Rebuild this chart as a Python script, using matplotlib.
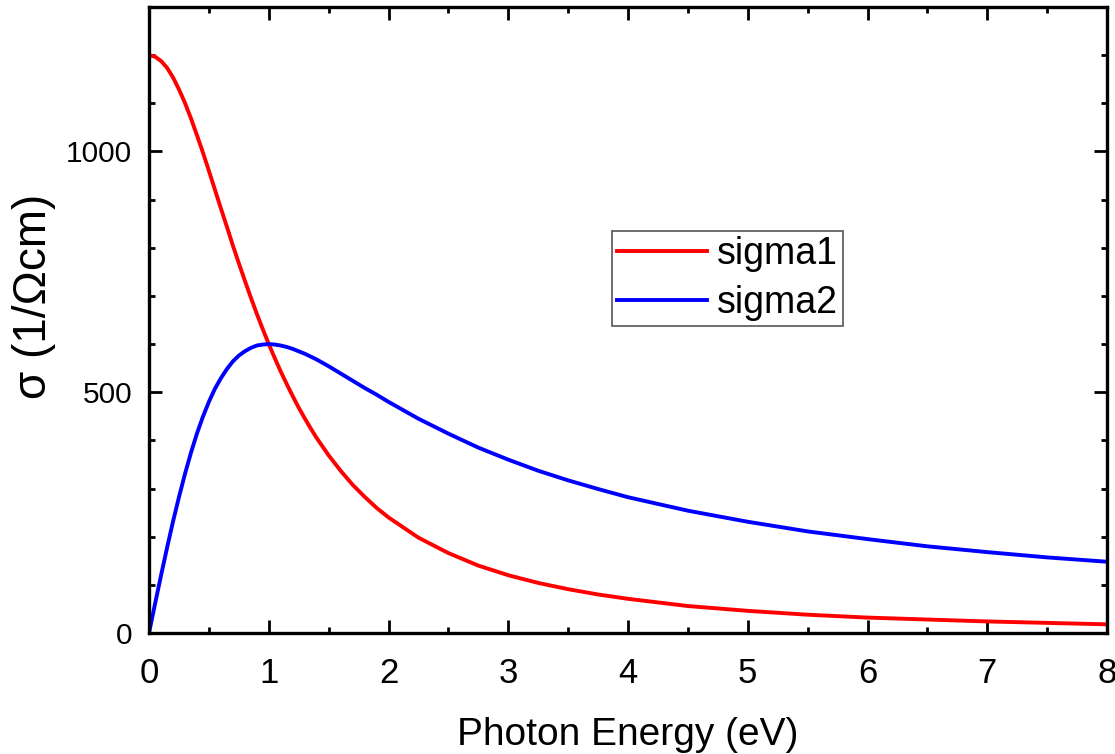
import matplotlib
matplotlib.use("Agg")
import matplotlib.pyplot as plt
from matplotlib.ticker import MultipleLocator

plt.rcParams['font.family'] = ['Liberation Sans', 'DejaVu Sans']

# Photon energy (eV) and the two conductivity components (1/Ohm cm)
energy = [0.0, 0.05, 0.1, 0.15, 0.2, 0.25, 0.3, 0.35, 0.4, 0.45,
          0.5, 0.55, 0.6, 0.65, 0.7, 0.75, 0.8, 0.85, 0.9, 0.95,
          1.0, 1.05, 1.1, 1.15, 1.2, 1.25, 1.3, 1.35, 1.4, 1.45,
          1.5, 1.6, 1.7, 1.8, 1.9, 2.0, 2.25, 2.5, 2.75, 3.0,
          3.25, 3.5, 3.75, 4.0, 4.5, 5.0, 5.5, 6.0, 6.5, 7.0, 7.5, 8.0]
sigma1 = [1200, 1197, 1188, 1174, 1154, 1129, 1101, 1069, 1034, 998,
          960, 921, 882, 844, 805, 768, 732, 697, 663, 631,
          600, 571, 543, 517, 492, 468, 446, 425, 405, 387,
          369, 337, 308, 283, 260, 240, 198, 166, 140, 120,
          104, 91, 80, 71, 56, 46, 38, 32, 28, 24, 21, 18]
sigma2 = [0, 60, 119, 176, 231, 282, 330, 374, 414, 449,
          480, 507, 529, 548, 564, 576, 585, 592, 597, 599,
          600, 599, 597, 594, 590, 585, 580, 574, 568, 561,
          554, 539, 524, 509, 495, 480, 445, 414, 385, 360,
          337, 317, 299, 282, 254, 231, 211, 195, 180, 168, 157, 148]

W, H = 1115, 754
fig = plt.figure(figsize=(W / 100, H / 100), dpi=100)
ax = fig.add_axes([149 / W, 1 - 633 / H, (1107 - 149) / W, (633 - 7) / H])

ax.plot(energy, sigma1, color='#ff0000', lw=2.8, label='sigma1',
        solid_joinstyle='round')
ax.plot(energy, sigma2, color='#0000ff', lw=2.8, label='sigma2',
        solid_joinstyle='round')

ax.set_xlim(0, 8)
ax.set_ylim(0, 1300)
ax.xaxis.set_major_locator(MultipleLocator(1))
ax.xaxis.set_minor_locator(MultipleLocator(0.5))
ax.yaxis.set_major_locator(MultipleLocator(500))
ax.yaxis.set_minor_locator(MultipleLocator(100))

for s in ax.spines.values():
    s.set_linewidth(2.4)

ax.tick_params(which='both', direction='in', top=True, right=True, width=2.0)
ax.tick_params(which='major', length=9.5)
ax.tick_params(which='minor', length=4.5)
ax.tick_params(axis='x', which='major', labelsize=25, pad=17)
ax.tick_params(axis='y', which='major', labelsize=21.5, pad=12)

fig.text(628 / W, 1 - 735 / H, 'Photon Energy (eV)', fontsize=28,
         ha='center', va='center')
fig.text(34 / W, 1 - 296 / H, 'σ (1/Ωcm)', fontsize=33,
         ha='center', va='center', rotation=90)

leg = ax.legend(loc='upper left', bbox_to_anchor=(612 / W, 1 - 231 / H),
                bbox_transform=fig.transFigure, fontsize=27, frameon=True,
                fancybox=False, framealpha=1, edgecolor='#555555',
                handlelength=2.4, handletextpad=0.25, borderpad=0.14,
                labelspacing=0.33, borderaxespad=0)
leg.get_frame().set_linewidth(1.2)

fig.savefig('out.png', dpi=100)
